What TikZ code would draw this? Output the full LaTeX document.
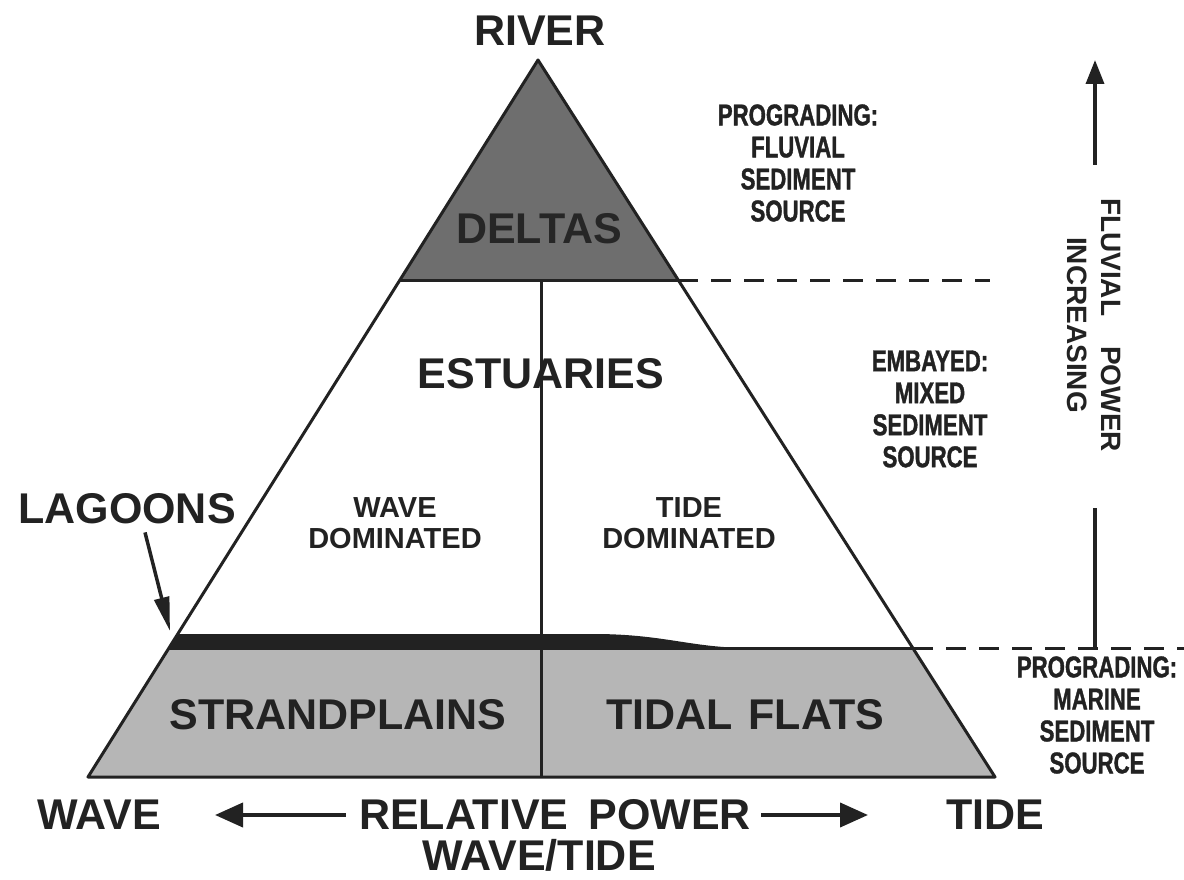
\documentclass[tikz,border=0pt]{standalone}
\usepackage{fontspec}
\setsansfont{Liberation Sans}
\newfontfamily\narrowfont[FakeStretch=0.74,FakeBold=1.2]{Liberation Sans Bold}
\usetikzlibrary{arrows.meta}
\definecolor{ink}{HTML}{222222}
\definecolor{deltagray}{HTML}{6E6E6E}
\definecolor{marinegray}{HTML}{B6B6B6}
\tikzset{
  biglabel/.style={font=\sffamily\bfseries\fontsize{43}{46}\selectfont, text=ink, inner sep=0pt},
  smalllabel/.style={font=\sffamily\bfseries\fontsize{29}{31}\selectfont, text=ink, inner sep=0pt, align=center},
  sourcelabel/.style={font=\narrowfont\fontsize{30}{32}\selectfont, text=ink, inner sep=0pt, align=center},
  edge/.style={line width=3pt, draw=ink},
  dashedge/.style={line width=3pt, draw=ink, dash pattern=on 20pt off 13pt},
  arrowline/.style={line width=4pt, draw=ink, -{Triangle[length=28pt,width=24pt]}},
}
\begin{document}
\begin{tikzpicture}[x=1pt,y=-1pt]
  \useasboundingbox (0,0) rectangle (1184,880);
  \coordinate (apex) at (538,60);
  \coordinate (bl) at (88,777);
  \coordinate (br) at (995,777);
  \coordinate (dl) at (400,280);
  \coordinate (dr) at (678,280);
  \coordinate (ml) at (169,648);
  \coordinate (mr) at (913,648);
  \coordinate (midtop) at (541,280);
  \coordinate (midbot) at (541,777);

  % zones
  \fill[deltagray] (apex) -- (dl) -- (dr) -- cycle;
  \fill[marinegray] (ml) -- (bl) -- (br) -- (mr) -- cycle;
  \fill[ink] (ml) -- (178,634) -- (600,634)
    .. controls (665,635) and (690,647) .. (745,648) -- cycle;

  \draw[edge, line join=round] (apex) -- (bl) -- (br) -- cycle;
  \draw[edge] (dl) -- (dr);
  \draw[edge] (ml) -- (mr);
  \draw[edge] (midtop) -- (midbot);
  \draw[dashedge] (dr) -- (990,280);
  \draw[dashedge] (mr) -- (1184,648);

  \node[biglabel] (river) at (540,31) {RIVER};
  \node[biglabel, text=black!85] (deltas) at (539,229) {DELTAS};
  \node[biglabel] (estuaries) at (541,374) {ESTUARIES};
  \node[smalllabel] (wavedom) at (395,523) {WAVE\\DOMINATED};
  \node[smalllabel] (tidedom) at (689,523) {TIDE\\DOMINATED};
  \node[biglabel] (strandplains) at (338,715) {STRANDPLAINS};
  \node[biglabel] (tidalflats) at (745,715) {TIDAL\hspace{16pt}FLATS};
  \node[biglabel] (lagoons) at (127,509) {LAGOONS};

  \node[sourcelabel] (fluvsource) at (798,163) {PROGRADING:\\FLUVIAL\\SEDIMENT\\SOURCE};
  \node[sourcelabel] (mixsource) at (930,409) {EMBAYED:\\MIXED\\SEDIMENT\\SOURCE};
  \node[sourcelabel] (marinesource) at (1097,715) {PROGRADING:\\MARINE\\SEDIMENT\\SOURCE};

  \node[biglabel] (wave) at (99,815) {WAVE};
  \node[biglabel] (tide) at (995,815) {TIDE};
  \node[biglabel] (relpower) at (555,815) {RELATIVE\hspace{20pt}POWER};
  \node[biglabel] (wavetide) at (539,855) {WAVE/TIDE};

  \node[smalllabel, font=\sffamily\bfseries\fontsize{28}{34}\selectfont, rotate=-90]
    (fluvial) at (1094,325) {FLUVIAL\hspace{30pt}POWER\\INCREASING};

  % arrows
  \coordinate (lagoontip) at (170,631);
  \coordinate (wavetip) at (215,815);
  \coordinate (tidetip) at (868,815);
  \coordinate (fluvtip) at (1095,60);
  \coordinate (fluvtop) at (1095,165);
  \coordinate (fluvbot) at (1095,508);
  \coordinate (fluvbase) at (1095,648);
  \draw[line width=3.5pt, draw=ink, -{Triangle[length=34pt,width=15pt]}]
    ([xshift=18pt,yshift=-8pt]lagoons.south) -- (lagoontip);
  \draw[arrowline, shorten <=13pt] (relpower.west) -- (wavetip);
  \draw[arrowline, shorten <=10pt] (relpower.east) -- (tidetip);
  \draw[line width=3.5pt, draw=ink, -{Triangle[length=24pt,width=18pt]}] (fluvtop) -- (fluvtip);
  \draw[line width=3.5pt, draw=ink] (fluvbase) -- (fluvbot);
\end{tikzpicture}
\end{document}
